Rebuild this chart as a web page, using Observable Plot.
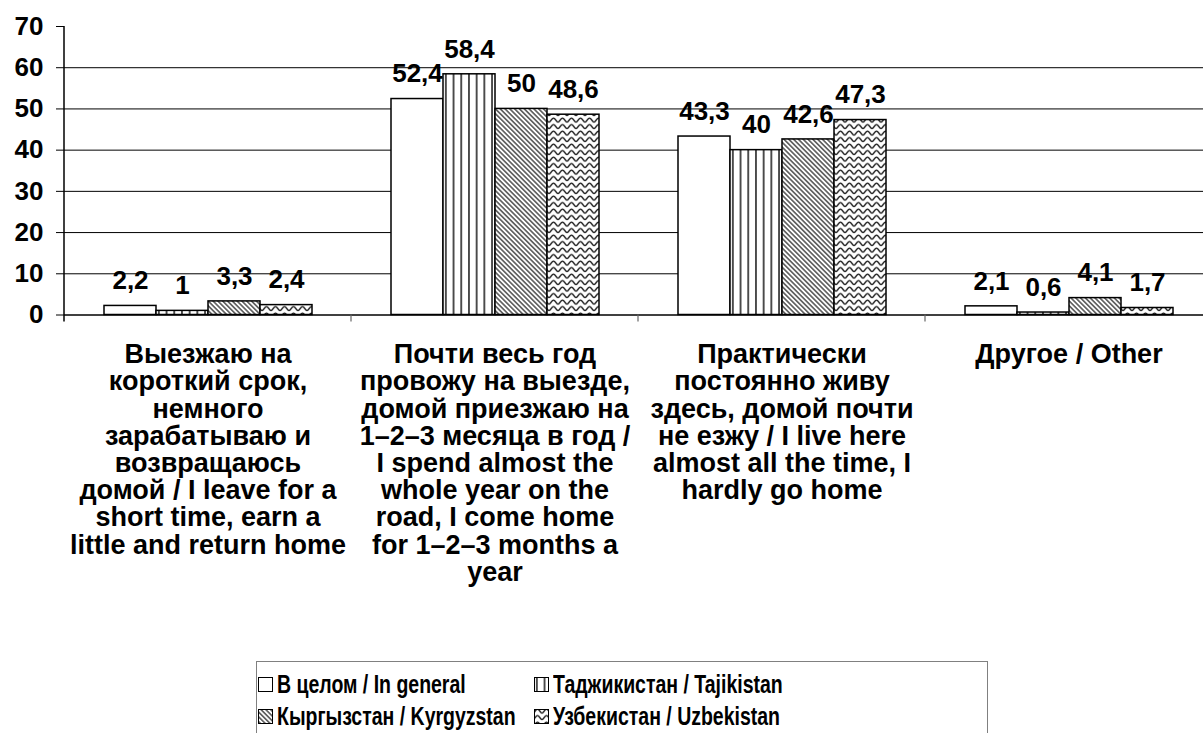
<!DOCTYPE html>
<html>
<head>
<meta charset="utf-8">
<script src="https://cdn.jsdelivr.net/npm/d3@7"></script>
<script src="https://cdn.jsdelivr.net/npm/@observablehq/plot@0.6"></script>
<style>
  html, body { margin: 0; padding: 0; background: #fff; overflow: hidden; }
  #chart { position: relative; width: 1203px; height: 733px; font-family: "Liberation Sans", Arial, sans-serif; }
  #legend { position: absolute; left: 256px; top: 661px; width: 732px; height: 90px; border: 1px solid #808080; box-sizing: border-box; }
  .li { position: absolute; display: flex; align-items: center; height: 30px; }
  .li svg { flex: none; }
  .li span { display: inline-block; font-weight: bold; font-size: 26.5px; white-space: nowrap; transform: scaleX(0.735); transform-origin: left center; margin-left: 3px; }
</style>
</head>
<body>
<div id="chart"></div>
<script>
const categories = [
  "Выезжаю на\nкороткий срок,\nнемного\nзарабатываю и\nвозвращаюсь\nдомой / I leave for a\nshort time, earn a\nlittle and return home",
  "Почти весь год\nпровожу на выезде,\nдомой приезжаю на\n1–2–3 месяца в год /\nI spend almost the\nwhole year on the\nroad, I come home\nfor 1–2–3 months a\nyear",
  "Практически\nпостоянно живу\nздесь, домой почти\nне езжу / I live here\nalmost all the time, I\nhardly go home",
  "Другое / Other"
];
const series = ["В целом / In general", "Таджикистан / Tajikistan", "Кыргызстан / Kyrgyzstan", "Узбекистан / Uzbekistan"];
const general = [2.2, 52.4, 43.3, 2.1];
const tajikistan = [1, 58.4, 40, 0.6];
const kyrgyzstan = [3.3, 50, 42.6, 4.1];
const uzbekistan = [2.4, 48.6, 47.3, 1.7];
const yTicks = [0, 10, 20, 30, 40, 50, 60, 70];
const patterns = ["url(#pGen)", "url(#pTaj)", "url(#pKyr)", "url(#pUzb)"];

const valuesBySeries = [general, tajikistan, kyrgyzstan, uzbekistan];
const data = [];
categories.forEach((c, ci) => {
  series.forEach((s, si) => {
    data.push({cat: c, series: s, value: valuesBySeries[si][ci], pattern: patterns[si]});
  });
});
const fmt = v => String(v).replace(".", ",");

const font = "'Liberation Sans', Arial, sans-serif";
const chart = Plot.plot({
  width: 1203,
  height: 650,
  marginLeft: 63,
  marginRight: -9,
  marginTop: 26,
  marginBottom: 335.5,
  style: {fontFamily: font, background: "white", overflow: "visible"},
  fx: {domain: categories, padding: 0, label: null},
  x: {domain: series, paddingInner: 0, paddingOuter: 0.75, axis: null},
  y: {domain: [0, 70], axis: null},
  color: {type: "identity"},
  marks: [
    Plot.ruleY(yTicks.filter(d => d > 0 && d < 70), {stroke: "#000", strokeWidth: 1}),
    Plot.barY(data, {fx: "cat", x: "series", y: "value", fill: "pattern", stroke: "#000", strokeWidth: 1.5}),
    Plot.ruleY([0], {stroke: "#000", strokeWidth: 1.5}),
    Plot.text(data, {fx: "cat", x: "series", y: "value", text: d => fmt(d.value), dy: -25,
      fontSize: 26, fontWeight: "bold", fill: "#000"}),
    Plot.axisY({ticks: yTicks, tickSize: 8, tickPadding: 13, fontSize: 26, fontWeight: "bold",
      tickFormat: d => d, stroke: "#000", color: "#000", label: null}),
    Plot.axisFx({anchor: "bottom", tickSize: 0, tickPadding: 29, fontSize: 27, fontWeight: "bold",
      lineHeight: 1.007, label: null, color: "#000", tickFormat: d => d})
  ]
});

const svg = d3.select(chart);
const defs = svg.insert("defs", ":first-child");
// general: plain white
defs.append("pattern").attr("id", "pGen").attr("patternUnits", "userSpaceOnUse").attr("width", 8).attr("height", 8)
  .append("rect").attr("width", 8).attr("height", 8).attr("fill", "#fff");
// tajik: vertical lines
{
  const p = defs.append("pattern").attr("id", "pTaj").attr("patternUnits", "userSpaceOnUse").attr("width", 7.7).attr("height", 10);
  p.append("rect").attr("width", 7.7).attr("height", 10).attr("fill", "#fff");
  p.append("line").attr("x1", 3.85).attr("x2", 3.85).attr("y1", 0).attr("y2", 10).attr("stroke", "#333").attr("stroke-width", 1.7);
}
// kyrgyz: diagonal "\" lines
{
  const p = defs.append("pattern").attr("id", "pKyr").attr("patternUnits", "userSpaceOnUse").attr("width", 3.4).attr("height", 10)
    .attr("patternTransform", "rotate(-45)");
  p.append("rect").attr("width", 3.4).attr("height", 10).attr("fill", "#fff");
  p.append("line").attr("x1", 1.7).attr("x2", 1.7).attr("y1", 0).attr("y2", 10).attr("stroke", "#333").attr("stroke-width", 1.3);
}
// uzbek: waves
{
  const p = defs.append("pattern").attr("id", "pUzb").attr("patternUnits", "userSpaceOnUse").attr("width", 9).attr("height", 6.5);
  p.append("rect").attr("width", 9).attr("height", 6.5).attr("fill", "#fff");
  p.append("path").attr("d", "M0,5 C1.7,5 2.5,1.2 4.5,1.2 C6.5,1.2 7.3,5 9,5").attr("fill", "none").attr("stroke", "#222").attr("stroke-width", 1.4);
}

// y axis line and category separator ticks, from the scales
const fx = chart.scale("fx");
const y = chart.scale("y");
const y0 = y.apply(0), yTop = y.apply(70);
const g = svg.append("g").attr("stroke", "#000");
const xLeft = fx.apply(categories[0]);
g.append("line").attr("x1", xLeft).attr("x2", xLeft).attr("y1", yTop).attr("y2", y0 + 7).attr("stroke-width", 1.5);
categories.slice(1).forEach(c => {
  const xx = fx.apply(c);
  g.append("line").attr("x1", xx).attr("x2", xx).attr("y1", y0).attr("y2", y0 + 7).attr("stroke", "#666").attr("stroke-width", 1.2);
});

document.getElementById("chart").appendChild(chart);

// legend
const legend = document.createElement("div");
legend.id = "legend";
const pos = [[0, 7], [276, 7], [0, 39], [276, 39]];
series.forEach((s, i) => {
  const item = document.createElement("div");
  item.className = "li";
  item.style.left = pos[i][0] + "px";
  item.style.top = pos[i][1] + "px";
  item.innerHTML = `<svg width="17" height="17"><rect x="1.5" y="1.5" width="14" height="14" fill="${patterns[i]}" stroke="#000" stroke-width="1"/></svg><span>${s}</span>`;
  legend.appendChild(item);
});
document.getElementById("chart").appendChild(legend);
</script>
</body>
</html>
